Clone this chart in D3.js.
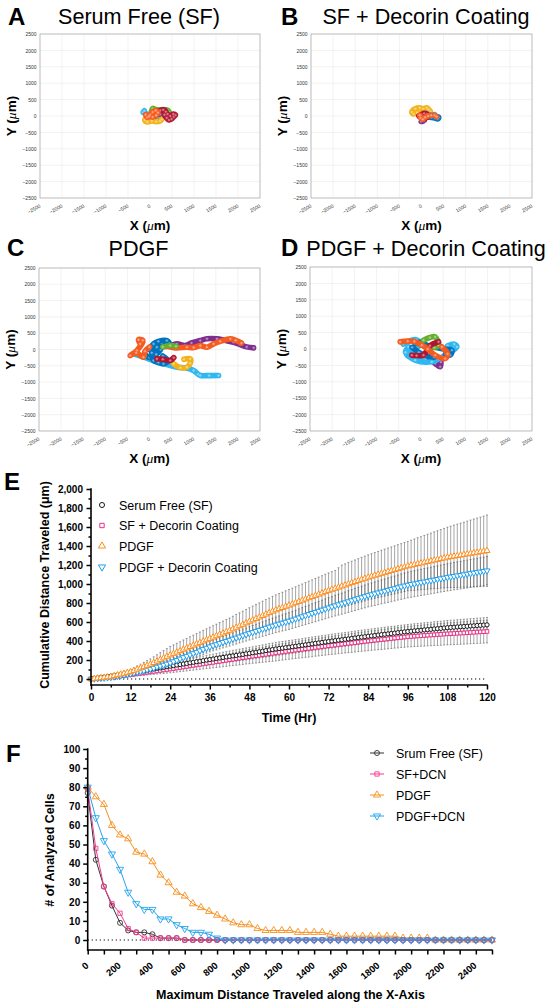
<!DOCTYPE html>
<html><head><meta charset="utf-8">
<script src="https://cdn.jsdelivr.net/npm/d3@7"></script>
<style>
body{margin:0;background:#fff}
svg{display:block}
text{font-family:"Liberation Sans",Arial,Helvetica,sans-serif}
</style>
</head><body>
<svg id="c" width="550" height="1007"></svg>
<script>
// ===================== DATA =====================
// Panels A-D : cell trajectories, [cellId, [[x,y],...]] in µm
const scatterTicks = [-2500,-2000,-1500,-1000,-500,0,500,1000,1500,2000,2500];
const panelTitles = ["Serum Free (SF)","SF + Decorin Coating","PDGF","PDGF + Decorin Coating"];
const panelLetters = ["A","B","C","D"];

const tracksA = [
  [0,[[0,0],[50,-80],[110,-120],[170,-90],[220,-40]]],
  [3,[[0,0],[80,40],[160,80],[230,50]]],
  [5,[[-40,40],[-110,90],[-160,110],[-130,160]]],
  [2,[[-80,-40],[-120,-120],[-60,-180],[40,-150],[140,-170],[230,-150],[270,-100]]],
  [4,[[0,0],[30,120],[60,230],[110,210],[200,180],[300,200],[400,180],[440,110]]],
  [6,[[150,100],[230,170],[300,190],[360,130],[330,40],[380,-60],[430,-120],[490,-90],[540,-20],[580,30],[530,60],[460,0],[400,60]]],
  [1,[[-100,40],[-60,-40],[0,40],[60,120],[130,170],[180,100],[140,20],[60,-30],[-20,-10]]]
];
const tracksB = [
  [2,[[-20,60],[-100,100],[-180,60],[-220,120],[-140,220],[-40,250],[40,220],[120,250],[160,200],[200,140]]],
  [4,[[0,0],[40,60],[80,40]]],
  [5,[[60,40],[140,60],[220,20],[300,40],[260,-40],[180,-30]]],
  [0,[[150,-20],[230,-40],[300,-60],[370,-90],[390,-40],[330,-20]]],
  [3,[[0,0],[20,-80],[40,-150],[-10,-170],[60,-130]]],
  [6,[[-60,0],[0,40],[60,80],[120,60],[160,-10],[100,-60]]],
  [1,[[-40,20],[-20,-60],[30,-100],[80,-40],[150,0],[220,20],[300,20],[340,-20]]]
];
const tracksC = [
  [5,[[-363,-133],[-200,-200],[0,-300],[300,-420],[620,-541],[800,-560],[997,-643],[1100,-760],[1148,-796],[1350,-800],[1563,-796]]],
  [2,[[544,-439],[700,-560],[846,-541],[921,-420],[921,-286],[780,-300]]],
  [3,[[500,120],[620,173],[800,120],[950,200],[1148,275],[1300,330],[1526,326],[1700,280],[1903,224],[2050,150],[2200,80],[2357,51]]],
  [1,[[0,0],[200,60],[400,90],[600,50],[846,71],[1000,60],[1150,120],[1299,71],[1450,173],[1600,250],[1828,326],[1950,280],[2080,200]]],
  [7,[[-100,-150],[0,-250],[150,-150],[250,0]]],
  [0,[[0,0],[91,173],[200,250],[393,275],[450,180],[300,100],[166,71],[50,-100],[91,-337],[200,-400],[317,-439],[420,-350],[300,-200]]],
  [6,[[166,-286],[300,-300],[468,-337],[550,-250]]],
  [4,[[300,80],[468,122],[600,100]]],
  [8,[[-211,173],[-250,300],[-150,280],[-287,-31],[-438,-184],[-300,-100],[-136,-235],[-100,-50],[0,80]]]
];
const tracksD = [
  [12,[[-400,150],[-250,250],[-100,280],[0,150],[-150,0],[-300,-200],[-100,-250],[100,-300]]],
  [3,[[200,-300],[320,-441],[432,-542],[450,-400]]],
  [5,[[-282,66],[-350,-100],[-132,-340],[244,-390],[400,-300],[620,-137],[808,66],[750,150],[600,100]]],
  [0,[[-132,167],[0,200],[150,100],[300,50],[500,0],[695,-35],[658,-188],[550,-150]]],
  [7,[[-200,50],[-50,-100],[100,-200],[300,-250]]],
  [4,[[56,269],[200,350],[320,370],[395,117],[300,50]]],
  [6,[[-207,-188],[-100,-200],[56,-188],[200,100],[395,218]]],
  [1,[[-470,218],[-300,240],[-150,230],[19,117],[150,0],[320,-188],[545,-289],[600,-150],[470,66]]]
];

// Panel E : cumulative distance (µm) per hour, mean and SD
const hours = d3.range(0,121);
const timeTicks = [0,12,24,36,48,60,72,84,96,108,120];
const timeMinor = [6,18,30,42,54,66,78,90,102,114];
const distTicksE = [0,200,400,600,800,1000,1200,1400,1600,1800,2000];
const distMinorE = [100,300,500,700,900,1100,1300,1500,1700,1900];
const legendE = ["Serum Free (SF)","SF + Decorin Coating","PDGF","PDGF + Decorin Coating"];

const sfMean = [0,5,10,15,20,25,30,36,41,47,52,58,63,69,75,81,87,93,99,105,111,117,123,129,135,141,147,152,158,164,170,176,182,187,193,199,205,210,216,221,227,232,238,243,248,254,259,265,270,276,282,287,293,299,305,310,316,321,325,330,335,340,345,350,355,360,365,370,375,380,385,390,395,400,404,409,413,418,422,427,432,436,441,445,450,454,458,463,467,471,475,479,483,488,492,496,500,503,507,510,513,517,520,523,527,530,533,537,540,543,545,548,550,553,555,558,560,563,565,568,570];
const sfSD = [0,2,3,5,7,8,10,12,13,15,17,18,20,22,23,25,27,28,30,32,33,35,37,38,40,41,42,43,44,45,46,47,47,48,49,50,51,52,53,54,55,56,57,58,59,60,61,62,63,63,64,65,66,67,68,69,70,70,70,70,70,70,70,70,70,71,71,71,71,71,71,71,71,72,72,72,72,72,72,72,72,73,73,73,73,73,73,73,73,74,74,74,74,74,74,74,74,75,75,75,75,75,75,75,75,76,76,76,76,76,76,76,76,77,77,77,77,77,77,77,78];
const dcnMean = [0,4,7,11,15,18,22,26,30,33,37,41,45,50,55,60,65,70,75,80,85,90,95,100,105,110,116,121,127,132,138,143,148,154,159,165,170,175,181,186,192,197,203,208,213,219,224,230,235,240,245,250,255,260,265,270,275,280,285,290,295,300,304,309,313,318,322,327,332,336,341,345,350,354,358,363,367,371,375,379,383,388,392,396,400,404,408,411,415,419,423,427,431,434,438,442,446,448,451,453,456,458,461,463,465,468,470,473,475,477,479,481,483,485,487,490,492,494,496,498,500];
const dcnSD = [0,2,3,5,7,8,10,12,13,15,17,18,20,22,23,25,27,28,30,32,33,35,37,38,40,41,43,44,46,47,48,50,51,53,54,56,57,58,60,61,63,64,65,67,68,70,71,72,74,75,77,78,79,81,82,84,85,86,86,87,87,88,89,89,90,90,91,92,92,93,93,94,94,95,96,96,97,97,98,99,99,100,100,101,102,102,103,103,104,105,105,106,106,107,107,108,109,109,110,110,111,112,112,113,113,114,115,115,116,116,117,117,118,118,118,119,119,119,120,120,120];
const pdgfMean = [0,4,8,12,16,20,25,33,42,50,58,67,75,88,102,115,128,142,155,171,187,204,220,236,252,267,281,296,311,325,340,354,368,383,397,411,425,439,453,468,482,496,510,526,542,558,573,589,605,620,635,650,666,681,696,711,726,738,750,763,775,788,801,814,827,840,853,865,878,891,904,917,930,942,953,965,977,988,1000,1012,1023,1035,1047,1058,1070,1080,1090,1100,1110,1120,1130,1139,1149,1159,1169,1179,1189,1197,1204,1212,1219,1227,1235,1242,1250,1257,1265,1272,1280,1286,1292,1297,1303,1309,1315,1321,1327,1332,1338,1344,1350];
const pdgfSD = [0,2,4,6,8,10,12,14,16,18,20,22,25,30,36,41,47,52,57,63,68,73,79,84,90,92,95,97,100,102,105,107,110,112,115,117,120,122,124,126,128,130,132,135,137,139,141,143,145,147,149,151,153,155,156,158,160,162,163,165,167,168,170,172,173,175,177,178,180,182,183,185,187,188,190,206,222,224,226,228,230,232,234,236,237,239,241,243,245,247,249,251,253,255,256,258,260,265,270,275,279,284,289,294,299,304,308,313,318,323,328,333,337,342,347,352,357,362,366,371,376];
const pdcnMean = [0,3,6,9,12,15,18,24,30,36,43,49,55,63,72,80,88,97,105,116,127,138,148,159,170,184,198,213,227,241,255,269,283,298,312,326,340,352,363,375,387,398,410,422,433,445,457,468,480,491,503,514,525,536,548,559,570,580,590,600,610,622,633,645,657,668,680,692,703,715,727,738,750,761,772,783,793,804,815,826,837,848,858,869,880,889,898,908,917,926,935,944,953,963,972,981,990,997,1003,1010,1017,1023,1030,1037,1043,1050,1057,1063,1070,1076,1082,1088,1093,1099,1105,1111,1117,1123,1128,1134,1140];
const pdcnSD = [0,1,2,4,5,6,7,9,10,11,12,14,15,17,19,21,23,25,27,30,32,34,36,38,40,41,43,44,45,46,48,49,50,51,53,54,55,56,58,59,60,61,63,64,65,66,68,69,70,72,73,75,76,78,79,81,82,84,85,87,88,90,91,93,94,96,97,99,100,102,103,105,106,107,109,110,111,112,114,115,116,117,119,120,121,122,124,125,126,127,129,130,131,132,134,135,136,137,137,138,138,139,139,140,141,141,142,142,143,144,144,145,145,146,147,147,148,148,149,149,150];

// Panel F : number of analyzed cells vs maximum X distance (µm)
const maxDist = d3.range(0,2501,50);
const distTicksF = [0,200,400,600,800,1000,1200,1400,1600,1800,2000,2200,2400];
const distMinorF = [100,300,500,700,900,1100,1300,1500,1700,1900,2100,2300,2500];
const countTicksF = [0,10,20,30,40,50,60,70,80,90,100];
const countMinorF = [5,15,25,35,45,55,65,75,85,95];
const legendF = ["Srum Free (SF)","SF+DCN","PDGF","PDGF+DCN"];
const fSF = [77,42,28,18,9,5,4,4,3,1,1,1, 0,0,0,0,0,0,0,0,0,0,0,0,0,0,0,0,0,0,0,0,0,0,0,0,0,0,0,0,0,0,0,0,0,0,0,0,0,0,0];
const fSFDCN = [79,48,28,19,14,6,4,1,1,1,1,1, 0,0,0,0,0,0,0,0,0,0,0,0,0,0,0,0,0,0,0,0,0,0,0,0,0,0,0,0,0,0,0,0,0,0,0,0,0,0,0];
const fPDGF = [80,75,71,60,55,53,46,45,41,34,30,25,23,19,17,15,13,11,9,8,8,6,5,5,5,5,4,4,4,4,3,2,2,2,2,2,2,2,2,1,1,1,1, 0,0,0,0,0,0,0,0];
const fPDGFDCN = [80,64,52,45,37,25,19,16,16,11,11,8,6,4,4,3,1, 0,0,0,0,0,0,0,0,0,0,0,0,0,0,0,0,0,0,0,0,0,0,0,0,0,0,0,0,0,0,0,0,0,0];

// ===================== STYLE =====================
const trackPalette = ["#0072BD","#F55A1E","#F2B21A","#7E2F8E","#62AE2E","#2EB7F0","#B0152F"];
const cBlack = "#1a1a1a", cPink = "#EA2F86", cOrange = "#FF8C1A", cBlue = "#1EA0F0";
const svg = d3.select("#c");
const SANS = '"Liberation Sans",Arial,Helvetica,sans-serif';
const SERIF = '"Liberation Serif","DejaVu Serif",serif';

// ===================== PANELS A-D =====================
const frames = [
  {l:40, r:260, t:34, b:198, tx:139, ty:24, lx:8, ly:25},
  {l:311, r:532, t:34, b:198, tx:426, ty:24, lx:281, ly:25},
  {l:39, r:260, t:268, b:431, tx:138.5, ty:256, lx:7, ly:256},
  {l:310, r:532, t:267, b:431, tx:426, ty:256, lx:281, ly:256}
];
const allTracks = [tracksA, tracksB, tracksC, tracksD];

frames.forEach((f, k) => {
  const x = d3.scaleLinear([-2500,2500],[f.l,f.r]);
  const y = d3.scaleLinear([-2500,2500],[f.b,f.t]);
  const g = svg.append("g");
  g.append("g").selectAll("line").data(scatterTicks).join("line")
    .attr("x1",d=>x(d)).attr("x2",d=>x(d)).attr("y1",f.t).attr("y2",f.b)
    .attr("stroke","#e4e4e4").attr("stroke-width",0.5);
  g.append("g").selectAll("line").data(scatterTicks).join("line")
    .attr("y1",d=>y(d)).attr("y2",d=>y(d)).attr("x1",f.l).attr("x2",f.r)
    .attr("stroke","#e4e4e4").attr("stroke-width",0.5);
  g.append("rect").attr("x",f.l).attr("y",f.t).attr("width",f.r-f.l).attr("height",f.b-f.t)
    .attr("fill","none").attr("stroke","#9a9a9a").attr("stroke-width",0.6);
  const ay = g.append("g").attr("transform",`translate(${f.l},0)`)
    .call(d3.axisLeft(y).tickValues(scatterTicks).tickSize(0).tickPadding(3.5).tickFormat(d3.format("d")));
  ay.select(".domain").remove();
  ay.selectAll("text").attr("font-family",SERIF).attr("font-size",5).attr("fill","#333");
  const ax = g.append("g").attr("transform",`translate(0,${f.b})`)
    .call(d3.axisBottom(x).tickValues(scatterTicks).tickSize(0).tickFormat(d3.format("d")));
  ax.select(".domain").remove();
  ax.selectAll("text").attr("font-family",SERIF).attr("font-size",5).attr("fill","#333")
    .attr("y",null).attr("dy",null).attr("text-anchor","end")
    .attr("transform","translate(0.5,9) rotate(-30)");
  const line = d3.line().x(d=>x(d[0])).y(d=>y(d[1])).curve(d3.curveCatmullRom.alpha(0.5));
  allTracks[k].forEach(([cell, pts]) => {
    const col = trackPalette[cell % trackPalette.length];
    g.append("path").attr("d",line(pts)).attr("fill","none").attr("stroke",col)
      .attr("stroke-width",5.6).attr("stroke-linecap","round").attr("stroke-linejoin","round");
    g.append("g").selectAll("circle").data(pts).join("circle")
      .attr("cx",d=>x(d[0])).attr("cy",d=>y(d[1])).attr("r",1.6)
      .attr("fill","#fff").attr("fill-opacity",0.45).attr("stroke",col).attr("stroke-width",0.7);
  });
  svg.append("text").attr("x",f.lx).attr("y",f.ly).attr("font-family",SANS).attr("font-weight","bold")
    .attr("font-size",24).text(panelLetters[k]);
  svg.append("text").attr("x",f.tx).attr("y",f.ty).attr("text-anchor","middle").attr("font-family",SANS)
    .attr("font-size",21.6).text(panelTitles[k]);
  const yl = svg.append("text").attr("transform",`translate(${f.l-24},${(f.t+f.b)/2}) rotate(-90)`)
    .attr("text-anchor","middle").attr("font-family",SANS).attr("font-weight","bold").attr("font-size",13.5);
  yl.append("tspan").text("Y (");
  yl.append("tspan").attr("font-style","italic").attr("font-family",SERIF).attr("font-weight","normal").text("\u03bc");
  yl.append("tspan").text("m)");
  const xl = svg.append("text").attr("x",(f.l+f.r)/2).attr("y",f.b+32)
    .attr("text-anchor","middle").attr("font-family",SANS).attr("font-weight","bold").attr("font-size",13.5);
  xl.append("tspan").text("X (");
  xl.append("tspan").attr("font-style","italic").attr("font-family",SERIF).attr("font-weight","normal").text("\u03bc");
  xl.append("tspan").text("m)");
});

// ===================== helpers =====================
function styleAxis(sel, fs) {
  sel.select(".domain").remove();
  sel.selectAll("line").attr("stroke","#000").attr("stroke-width",1.5);
  sel.selectAll("text").attr("font-family",SANS).attr("font-weight","bold")
    .attr("font-size",fs).attr("fill","#000");
}
const symDown = d3.symbolTriangle;

// ===================== PANEL E =====================
const xE = d3.scaleLinear([0,120],[91,487]);
const yE = d3.scaleLinear([0,2000],[679,489]);
const baseE = 685;
const gE = svg.append("g");
svg.append("text").attr("x",4).attr("y",490).attr("font-family",SANS).attr("font-weight","bold").attr("font-size",24).text("E");

gE.append("line").attr("x1",xE(0)).attr("x2",xE(120)).attr("y1",yE(0)).attr("y2",yE(0))
  .attr("stroke","#000").attr("stroke-width",1.1).attr("stroke-dasharray","1.2,2.8");

const seriesE = [
  {mean:sfMean, sd:sfSD, color:cBlack, sym:d3.symbolCircle, size:14, rot:0},
  {mean:dcnMean, sd:dcnSD, color:cPink, sym:d3.symbolSquare, size:13, rot:0},
  {mean:pdgfMean, sd:pdgfSD, color:cOrange, sym:d3.symbolTriangle, size:16, rot:0},
  {mean:pdcnMean, sd:pdcnSD, color:cBlue, sym:symDown, size:16, rot:180}
];
seriesE.forEach(s => {
  gE.append("g").selectAll("path").data(s.mean).join("path")
    .attr("d",(d,i)=>{
      const xx = xE(hours[i]), lo = yE(d - s.sd[i]), hi = yE(d + s.sd[i]);
      return `M${xx-1},${lo}H${xx+1}M${xx},${lo}V${hi}M${xx-1},${hi}H${xx+1}`;
    })
    .attr("fill","none").attr("stroke","#4a4a4a").attr("stroke-width",0.5);
});
[seriesE[1], seriesE[0], seriesE[3], seriesE[2]].forEach(s => {
  gE.append("g").selectAll("path").data(s.mean).join("path")
    .attr("d",d3.symbol(s.sym, s.size))
    .attr("transform",(d,i)=>`translate(${xE(hours[i])},${yE(d)}) rotate(${s.rot})`)
    .attr("fill","#fff").attr("stroke",s.color).attr("stroke-width",1);
});
gE.append("g").attr("transform",`translate(${xE(0)},0)`)
  .call(d3.axisLeft(yE).tickValues(distMinorE).tickSize(2.5).tickFormat(""))
  .call(styleAxis,10);
gE.append("g").attr("transform",`translate(${xE(0)},0)`)
  .call(d3.axisLeft(yE).tickValues(distTicksE).tickSize(4.5).tickPadding(3.5).tickFormat(d3.format(",")))
  .call(styleAxis,10);
gE.append("g").attr("transform",`translate(0,${baseE})`)
  .call(d3.axisBottom(xE).tickValues(timeMinor).tickSize(2.5).tickFormat(""))
  .call(styleAxis,10);
gE.append("g").attr("transform",`translate(0,${baseE})`)
  .call(d3.axisBottom(xE).tickValues(timeTicks).tickSize(4.5).tickPadding(4).tickFormat(d3.format("d")))
  .call(styleAxis,10);
gE.append("line").attr("x1",xE(0)).attr("x2",xE(0)).attr("y1",yE(2000)-0.75).attr("y2",baseE+0.75)
  .attr("stroke","#000").attr("stroke-width",1.6);
gE.append("line").attr("x1",xE(0)-0.75).attr("x2",xE(120)+0.75).attr("y1",baseE).attr("y2",baseE)
  .attr("stroke","#000").attr("stroke-width",1.6);
svg.append("text").attr("x",(xE(0)+xE(120))/2).attr("y",722).attr("text-anchor","middle")
  .attr("font-family",SANS).attr("font-weight","bold").attr("font-size",12.5).text("Time (Hr)");
svg.append("text").attr("transform",`translate(49,${(yE(2000)+baseE)/2 - 2}) rotate(-90)`).attr("text-anchor","middle")
  .attr("font-family",SANS).attr("font-weight","bold").attr("font-size",12.5).text("Cumulative Distance Traveled (\u03bcm)");
const legY = [505,525.5,546,567];
seriesE.forEach((s,i) => {
  svg.append("path").attr("d",d3.symbol(s.sym, s.size+6)())
    .attr("transform",`translate(102,${legY[i]}) rotate(${s.rot})`)
    .attr("fill","#fff").attr("stroke",s.color).attr("stroke-width",1);
  svg.append("text").attr("x",119).attr("y",legY[i]).attr("dy","0.36em")
    .attr("font-family",SANS).attr("font-size",12.5).text(legendE[i]);
});

// ===================== PANEL F =====================
const xF = d3.scaleLinear([0,2500],[87.7,492]);
const yF = d3.scaleLinear([0,100],[940,749]);
const baseF = 950;
const gF = svg.append("g");
svg.append("text").attr("x",6).attr("y",762).attr("font-family",SANS).attr("font-weight","bold").attr("font-size",24).text("F");

gF.append("line").attr("x1",xF(0)).attr("x2",xF(2500)).attr("y1",yF(0)).attr("y2",yF(0))
  .attr("stroke","#000").attr("stroke-width",1.1).attr("stroke-dasharray","1.2,2.8");

const seriesF = [
  {vals:fSF, color:"#333", sym:d3.symbolCircle, size:20, rot:0},
  {vals:fSFDCN, color:"#F03C92", sym:d3.symbolSquare, size:18, rot:0},
  {vals:fPDGF, color:"#F7901E", sym:d3.symbolTriangle, size:22, rot:0},
  {vals:fPDGFDCN, color:"#23A3EE", sym:symDown, size:22, rot:180}
];
const lineF = d3.line().x((d,i)=>xF(maxDist[i])).y(d=>yF(d));
[seriesF[2], seriesF[0], seriesF[1], seriesF[3]].forEach(s => {
  gF.append("path").attr("d",lineF(s.vals)).attr("fill","none").attr("stroke",s.color).attr("stroke-width",1);
  gF.append("g").selectAll("path").data(s.vals).join("path")
    .attr("d",d3.symbol(s.sym, s.size))
    .attr("transform",(d,i)=>`translate(${xF(maxDist[i])},${yF(d)}) rotate(${s.rot})`)
    .attr("fill","none").attr("stroke",s.color).attr("stroke-width",0.9);
});
gF.append("g").attr("transform",`translate(${xF(0)},0)`)
  .call(d3.axisLeft(yF).tickValues(countMinorF).tickSize(2.5).tickFormat(""))
  .call(styleAxis,10);
gF.append("g").attr("transform",`translate(${xF(0)},0)`)
  .call(d3.axisLeft(yF).tickValues(countTicksF).tickSize(4.5).tickPadding(3).tickFormat(d3.format("d")))
  .call(styleAxis,10);
gF.append("g").attr("transform",`translate(0,${baseF})`)
  .call(d3.axisBottom(xF).tickValues(distMinorF).tickSize(4.5).tickFormat(""))
  .call(styleAxis,10);
const axF = gF.append("g").attr("transform",`translate(0,${baseF})`)
  .call(d3.axisBottom(xF).tickValues(distTicksF).tickSize(4.5).tickFormat(d3.format("d")))
  .call(styleAxis,9.5);
axF.selectAll("text").attr("y",null).attr("dy",null).attr("text-anchor","end")
  .attr("transform","translate(1,16.5) rotate(-40)");
gF.append("line").attr("x1",xF(0)).attr("x2",xF(0)).attr("y1",yF(100)-0.75).attr("y2",baseF+0.75)
  .attr("stroke","#000").attr("stroke-width",1.6);
gF.append("line").attr("x1",xF(0)-0.75).attr("x2",xF(2500)+0.75).attr("y1",baseF).attr("y2",baseF)
  .attr("stroke","#000").attr("stroke-width",1.6);
svg.append("text").attr("x",290.5).attr("y",999).attr("text-anchor","middle")
  .attr("font-family",SANS).attr("font-weight","bold").attr("font-size",12.5).text("Maximum Distance Traveled along the X-Axis");
svg.append("text").attr("transform",`translate(54,850) rotate(-90)`).attr("text-anchor","middle")
  .attr("font-family",SANS).attr("font-weight","bold").attr("font-size",12.5).text("# of Analyzed Cells");
const legFY = [753,774,795,816];
seriesF.forEach((s,i) => {
  svg.append("line").attr("x1",370).attr("x2",384).attr("y1",legFY[i]).attr("y2",legFY[i])
    .attr("stroke",s.color).attr("stroke-width",1);
  svg.append("path").attr("d",d3.symbol(s.sym, s.size)())
    .attr("transform",`translate(377,${legFY[i]}) rotate(${s.rot})`)
    .attr("fill","none").attr("stroke",s.color).attr("stroke-width",0.9);
  svg.append("text").attr("x",396).attr("y",legFY[i]).attr("dy","0.36em")
    .attr("font-family",SANS).attr("font-size",12.5).text(legendF[i]);
});
</script>
</body></html>
